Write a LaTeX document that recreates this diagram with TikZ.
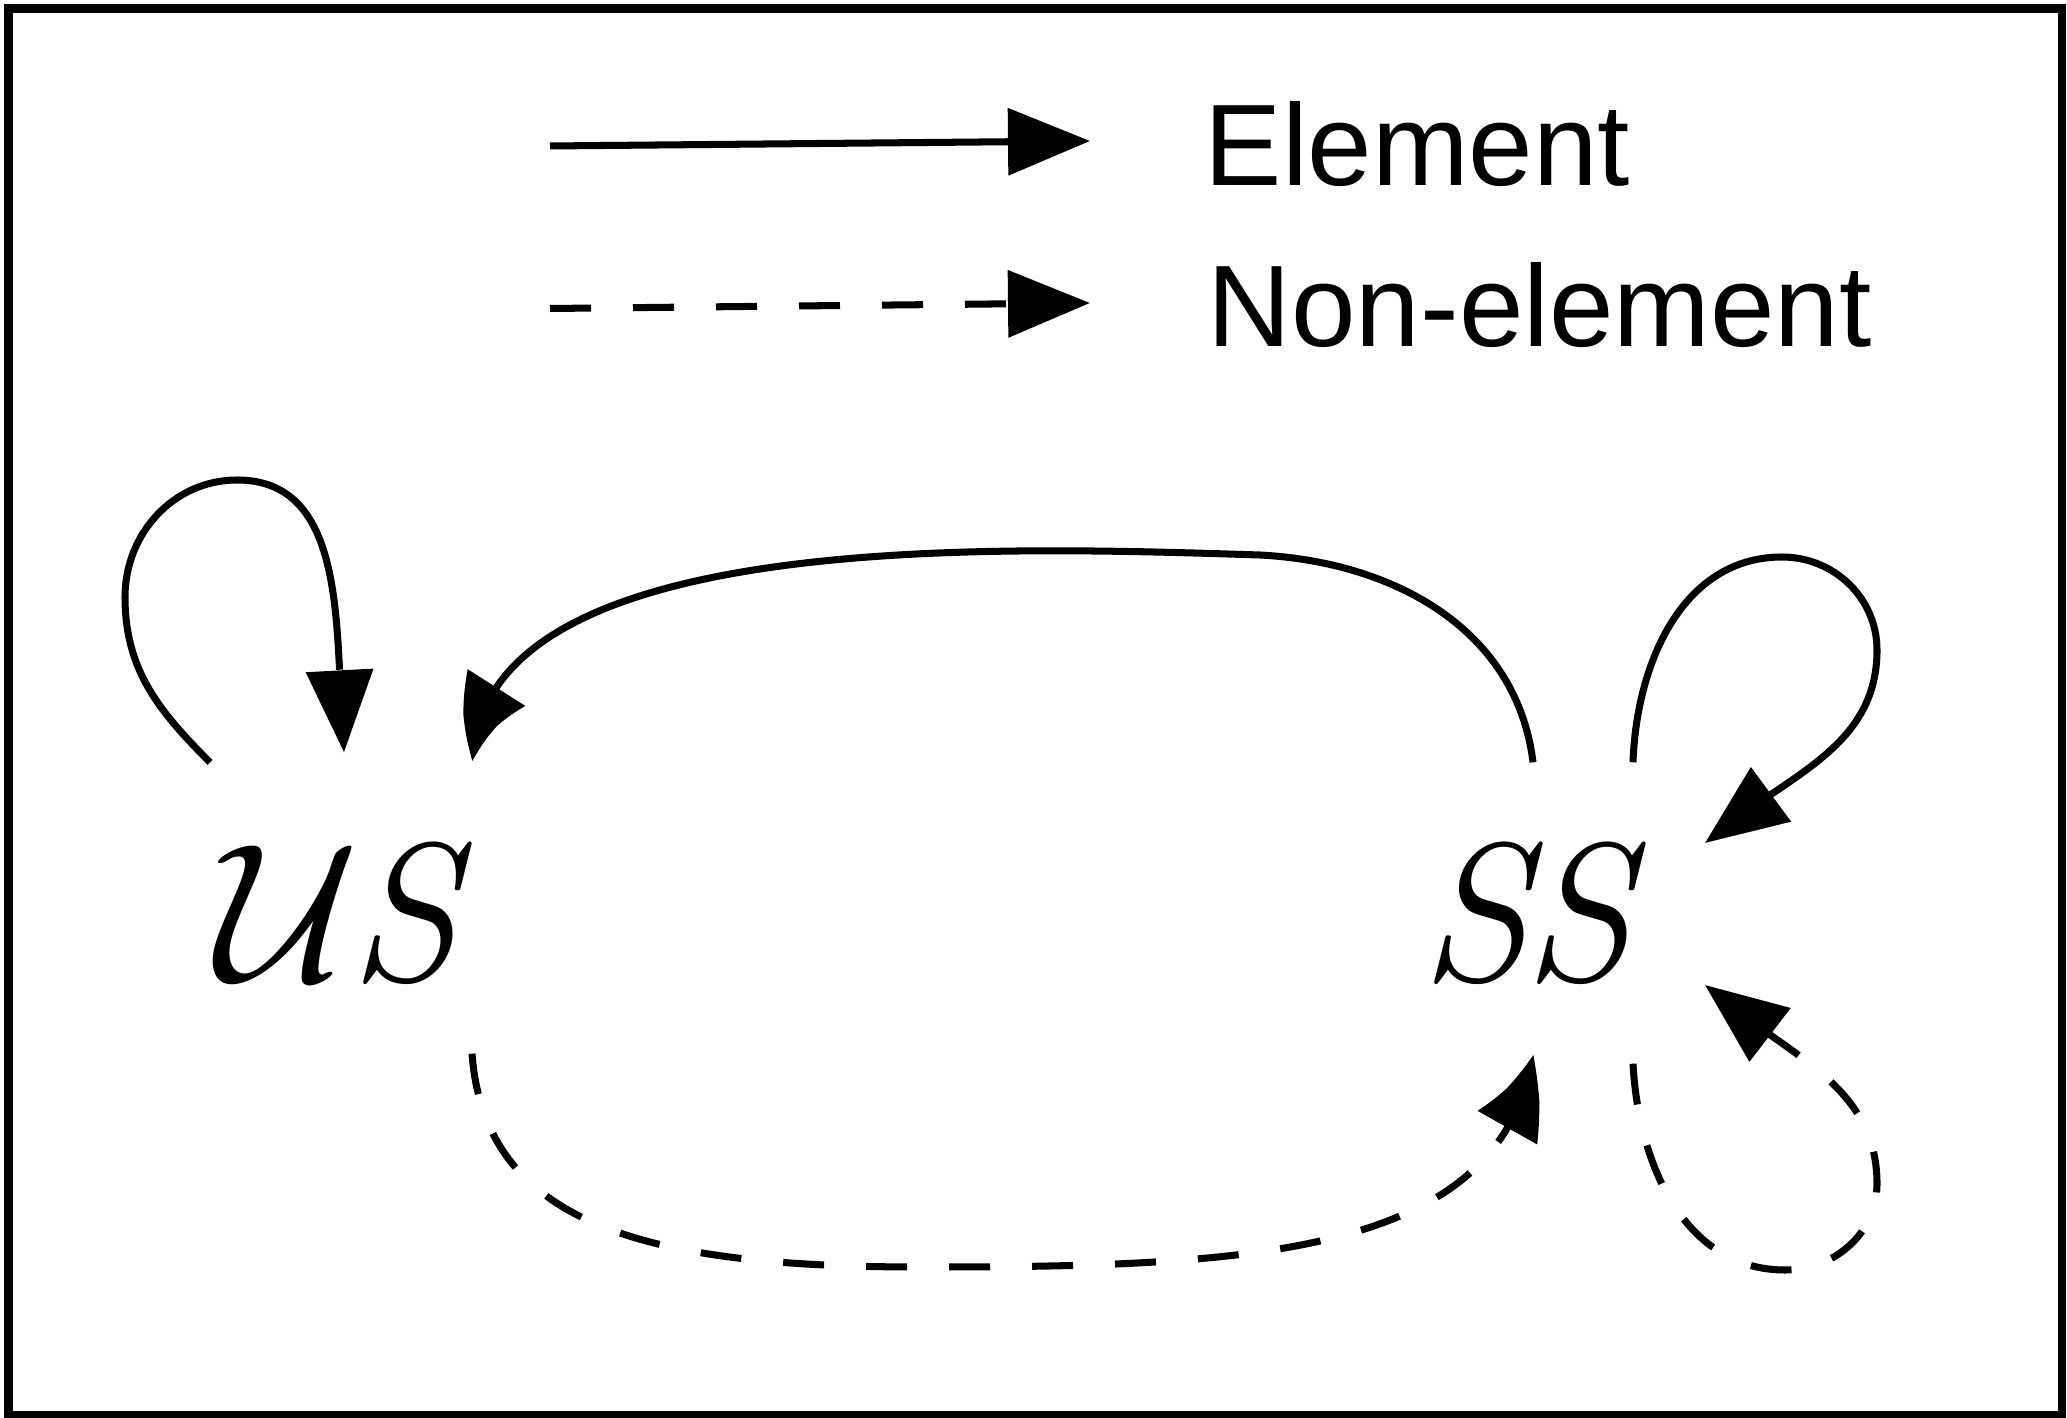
\documentclass[tikz,border=0pt]{standalone}
\usepackage{fix-cm}
\usepackage{fontspec}
\setsansfont{Liberation Sans}
\usetikzlibrary{arrows.meta, bending}

\begin{document}
\begin{tikzpicture}[>={Triangle[length=0.82cm, width=0.66cm]},
    element/.style={line width=2pt},
    nonelement/.style={line width=2pt, dash pattern=on 0.41cm off 0.42cm},
    bentarrow/.style={-{Triangle[bend, length=0.82cm, width=0.66cm]}},
    state/.style={minimum height=3cm, inner sep=0pt,
        font=\fontsize{56}{60}\selectfont},
    legend/.style={anchor=base west, inner sep=0pt,
        font=\sffamily\fontsize{33}{36}\selectfont}]

    \useasboundingbox (0,0) rectangle (20.67,14.17);

    % Marco
    \draw[line width=2.4pt] (0.085,0.02) rectangle (20.62,14.085);

    % Leyenda
    \coordinate (elemstart) at (5.50,12.71);
    \coordinate (elemend) at (10.90,12.76);
    \coordinate (nonelemstart) at (5.50,11.085);
    \coordinate (nonelemend) at (10.90,11.14);
    \draw[element, ->] (elemstart) -- (elemend);
    \draw[nonelement, ->] (nonelemstart) -- (nonelemend);
    \node[legend] (elemtxt) at (12.04,12.31) {Element};
    \node[legend] (nonelemtxt) at (12.07,10.70) {Non-element};

    % Estados
    \node[state] (us) at (3.44,5.04) {$\mathcal{U}$\kern-0.05em\textit{S}};
    \node[state] (ss) at (15.33,5.04) {\textit{S\kern-0.03em S}};

    % Lazo de US
    \draw[element, ->] ([xshift=-1.34cm]us.north)
        to[out=135, in=-90] (1.25,8.20)
        to[out=90, in=180] (2.37,9.37)
        to[out=0, in=95] ([yshift=0.10cm]us.north);

    % SS -> US (arriba)
    \draw[element, bentarrow] (ss.north)
        to[out=97, in=-3] (12.60,8.62)
        .. controls (10.0,8.70) and (4.8,8.90) .. ([xshift=1.29cm, yshift=0.01cm]us.north);

    % US -> SS (abajo)
    \draw[nonelement, bentarrow] ([xshift=1.28cm, yshift=0.10cm]us.south)
        .. controls (4.85,1.9) and (6.5,1.5) .. (9.20,1.50)
        .. controls (12.5,1.5) and (15.0,1.6) .. ([yshift=0.09cm]ss.south);

    % Lazos de SS
    \draw[element, ->] ([xshift=1.0cm]ss.north)
        to[out=88, in=180] (17.82,8.60)
        to[out=0, in=90] (18.77,7.67)
        to[out=-90, in=41] ([shift={(1.72,0.70)}]ss.center);
    \draw[nonelement, ->] ([xshift=1.0cm]ss.south)
        to[out=-87, in=180] (17.85,1.47)
        to[out=0, in=-90] (18.77,2.33)
        to[out=90, in=-42] ([shift={(1.72,-0.72)}]ss.center);
\end{tikzpicture}
\end{document}
